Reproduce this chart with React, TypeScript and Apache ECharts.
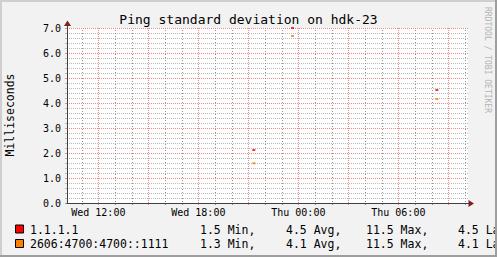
import React, { useEffect, useRef } from "react";
import * as echarts from "echarts";

// ---- data (hours counted from Wed 00:00) ----
const X_MIN = 10.12;
const X_MAX = 34.18;
const Y_MIN = 0;
const Y_MAX = 7;
const labelHours = [12, 18, 24, 30];
const majorHours = [12, 15, 18, 21, 24, 27, 30, 33];
const minorHours = [11, 13, 14, 16, 17, 19, 20, 22, 23, 25, 26, 28, 29, 31, 32, 34];
const sampleHours = [21.33, 23.65, 32.31];
const seriesNames = ["1.1.1.1", "2606:4700:4700::1111"];
const seriesColors = ["#ff0000", "#ff8000"];
const redValues = [2.12, 11.5, 4.52];
const orangeValues = [1.59, 6.68, 4.16];
const minVals = [1.5, 1.3];
const avgVals = [4.5, 4.1];
const maxVals = [11.5, 11.5];
const lastVals = [4.5, 4.1];

const TITLE = "Ping standard deviation on hdk-23";
const Y_NAME = "Milliseconds";
const WATERMARK = "RRDTOOL / TOBI OETIKER";

const MONO = "'DejaVu Sans Mono', monospace";
const GRID_COLOR = "#bababa";
const VGRID_COLOR = "#8f8f8f";
const MGRID_COLOR = "#e98a8a";
const AXIS_COLOR = "#404040";
const ARROW_COLOR = "#801f1f";
const DASH = [1, 1];
const VDASH = [1, 2];

const W = 497;
const H = 257;
const G_LEFT = 67;
const G_TOP = 28;
const G_W = 401;
const G_H = 175;

function hourLabel(h: number): string {
  const day = h < 24 ? "Wed" : "Thu";
  const hh = Math.round(h) % 24;
  return `${day} ${String(hh).padStart(2, "0")}:00`;
}

export default function App() {
  const ref = useRef<HTMLDivElement>(null);
  useEffect(() => {
    if (!ref.current) return;
    const chart = echarts.init(ref.current, undefined, { renderer: "svg" });
    const valueSets = [redValues, orangeValues];
    const scatterSeries = valueSets.map((vals, i) => ({
      type: "scatter",
      name: seriesNames[i],
      data: sampleHours.map((h, k) => [h, Math.min(vals[k], Y_MAX)]),
      symbol: "rect",
      symbolSize: [3, 2],
      itemStyle: { color: seriesColors[i] },
      clip: false,
      z: 8 - i,
      silent: true,
    }));

    const makeGrid = (hours: number[], color: string, dash: number[], z: number) => ({
      type: "custom",
      coordinateSystem: "cartesian2d",
      data: hours.map((h) => [h, Y_MIN]),
      encode: { x: 0, y: 1 },
      z,
      silent: true,
      clip: false,
      renderItem: (_params: any, api: any) => {
        const h = api.value(0);
        const bottom = api.coord([h, Y_MIN]);
        const top = api.coord([h, Y_MAX]);
        const x = Math.round(bottom[0]) + 0.5;
        return {
          type: "line",
          shape: { x1: x, y1: bottom[1] + 2, x2: x, y2: top[1] },
          style: { stroke: color, lineWidth: 1, lineDash: dash, fill: null },
        };
      },
    });

    const legendGraphics: any[] = [];
    const rowY = [229.5, 244];
    seriesNames.forEach((name, i) => {
      const y = rowY[i];
      legendGraphics.push({
        type: "rect",
        shape: { x: 15.5, y: y - 4.5, width: 8, height: 8 },
        style: { fill: seriesColors[i], stroke: "#000", lineWidth: 1 },
        z: 10,
      });
      const cols: [number, string][] = [
        [30, name],
        [200, `${minVals[i].toFixed(1)} Min,`],
        [286, `${avgVals[i].toFixed(1)} Avg,`],
        [366, `${maxVals[i].toFixed(1)} Max,`],
        [458, `${lastVals[i].toFixed(1)} Last`],
      ];
      cols.forEach(([x, t]) => {
        legendGraphics.push({
          type: "text",
          x,
          y,
          style: {
            text: t,
            fill: "#000",
            font: `11.5px ${MONO}`,
            textAlign: "left",
            textVerticalAlign: "middle",
            verticalAlign: "middle",
          },
          z: 10,
        });
      });
    });

    chart.setOption({
      animation: false,
      backgroundColor: "#f2f2f2",
      textStyle: { fontFamily: MONO },
      grid: {
        left: G_LEFT,
        top: G_TOP,
        width: G_W,
        height: G_H,
        show: true,
        backgroundColor: "#ffffff",
        borderWidth: 0,
      },
      xAxis: {
        type: "value",
        min: X_MIN,
        max: X_MAX,
        axisLine: { show: true, onZero: false, lineStyle: { color: AXIS_COLOR, width: 1 } },
        axisTick: { show: false },
        axisLabel: {
          show: true,
          customValues: labelHours,
          formatter: (v: number) => hourLabel(v),
          color: "#000",
          fontFamily: MONO,
          fontSize: 10,
          margin: 4,
        },
        splitLine: { show: false },
        z: 4,
      },
      yAxis: {
        type: "value",
        min: Y_MIN,
        max: Y_MAX,
        interval: 1,
        axisLine: { show: true, onZero: false, lineStyle: { color: AXIS_COLOR, width: 1 } },
        axisTick: { show: true, length: 2, lineStyle: { color: MGRID_COLOR } },
        minorTick: { show: true, splitNumber: 5, length: 2, lineStyle: { color: GRID_COLOR } },
        axisLabel: {
          formatter: (v: number) => v.toFixed(1),
          color: "#000",
          fontFamily: MONO,
          fontSize: 10,
          margin: 6,
        },
        splitLine: { show: true, lineStyle: { color: MGRID_COLOR, type: DASH, width: 1 } },
        minorSplitLine: { show: true, lineStyle: { color: GRID_COLOR, type: DASH, width: 1 } },
      },
      series: [
        makeGrid(majorHours, MGRID_COLOR, DASH, 4),
        makeGrid(minorHours, VGRID_COLOR, VDASH, 5),
        ...scatterSeries,
      ],
      graphic: [
        {
          type: "text",
          x: W / 2,
          y: 19,
          style: {
            text: TITLE,
            fill: "#000",
            font: `13px ${MONO}`,
            textAlign: "center",
            textVerticalAlign: "middle",
            verticalAlign: "middle",
          },
        },
        {
          type: "text",
          x: 10,
          y: 115,
          rotation: Math.PI / 2,
          style: {
            text: Y_NAME,
            fill: "#000",
            font: `11.5px ${MONO}`,
            textAlign: "center",
            textVerticalAlign: "middle",
            verticalAlign: "middle",
          },
        },
        {
          type: "text",
          x: 487,
          y: 60,
          rotation: -Math.PI / 2,
          style: {
            text: WATERMARK,
            fill: "#b4b4b4",
            font: `8px ${MONO}`,
            textAlign: "center",
            textVerticalAlign: "middle",
            verticalAlign: "middle",
          },
        },
        {
          type: "line",
          shape: { x1: G_LEFT + 0.5, y1: G_TOP, x2: G_LEFT + 0.5, y2: 24 },
          style: { stroke: AXIS_COLOR, lineWidth: 1 },
          z: 6,
        },
        {
          type: "polygon",
          shape: { points: [[64, 26], [67.5, 20.5], [71, 26]] },
          style: { fill: ARROW_COLOR },
          z: 6,
        },
        {
          type: "line",
          shape: { x1: G_LEFT + G_W, y1: G_TOP + G_H + 0.5, x2: 470, y2: G_TOP + G_H + 0.5 },
          style: { stroke: AXIS_COLOR, lineWidth: 1 },
          z: 6,
        },
        {
          type: "polygon",
          shape: { points: [[468.5, 200], [474, 203.5], [468.5, 207]] },
          style: { fill: ARROW_COLOR },
          z: 6,
        },
        ...legendGraphics,
        { type: "rect", shape: { x: 0, y: 0, width: W, height: 2 }, style: { fill: "#cfcfcf" }, z: 20 },
        { type: "rect", shape: { x: 0, y: 0, width: 2, height: H }, style: { fill: "#cfcfcf" }, z: 20 },
        { type: "rect", shape: { x: W - 2, y: 0, width: 2, height: H }, style: { fill: "#9e9e9e" }, z: 21 },
        { type: "rect", shape: { x: 0, y: H - 2, width: W, height: 2 }, style: { fill: "#9e9e9e" }, z: 21 },
      ],
    });
    return () => chart.dispose();
  }, []);
  return (
    <div
      ref={ref}
      style={{ position: "absolute", left: 0, top: 0, width: W, height: H }}
    />
  );
}
